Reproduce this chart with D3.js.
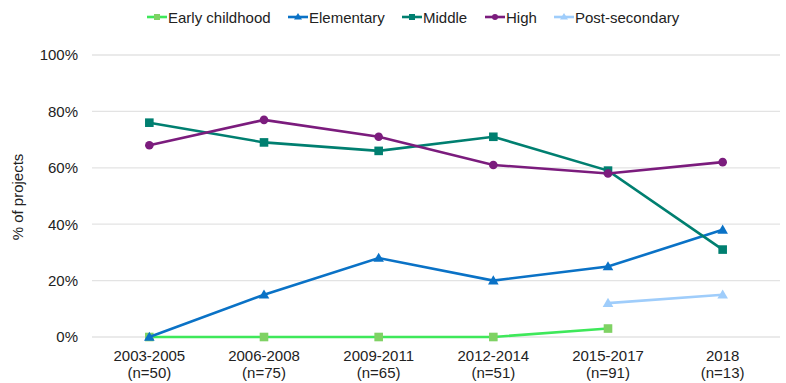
<!DOCTYPE html>
<html><head><meta charset="utf-8">
<script src="https://cdn.jsdelivr.net/npm/d3@7"></script>
<style>body{margin:0;background:#fff}svg{display:block;font-family:"Liberation Sans",Arial,sans-serif}</style>
</head><body><svg id="c" width="786" height="383"></svg>
<script>
const categories = ["2003-2005","2006-2008","2009-2011","2012-2014","2015-2017","2018"];
const sampleSizes = ["(n=50)","(n=75)","(n=65)","(n=51)","(n=91)","(n=13)"];
const earlyChildhood = [0,0,0,0,3,null];
const elementary = [0,15,28,20,25,38];
const middle = [76,69,66,71,59,31];
const high = [68,77,71,61,58,62];
const postSecondary = [null,null,null,null,12,15];
const yTicks = [0,20,40,60,80,100];

const series = [
  {name:"Early childhood", values:earlyChildhood, color:"#3ee85a", marker:"#7fd264", shape:"square"},
  {name:"Elementary", values:elementary, color:"#0a72c6", marker:"#0a72c6", shape:"triangle"},
  {name:"Middle", values:middle, color:"#007f70", marker:"#007f70", shape:"square"},
  {name:"High", values:high, color:"#7b1c7d", marker:"#7b1c7d", shape:"circle"},
  {name:"Post-secondary", values:postSecondary, color:"#9fcdfb", marker:"#9fcdfb", shape:"triangle"}
];
const drawOrder = [0,4,1,2,3];
const FS = 15;

const svg = d3.select("#c");
const x = d3.scaleBand().domain(categories).range([92,780]);
const y = d3.scaleLinear().domain([0,100]).range([337,55]);

// gridlines
svg.append("g").selectAll("line").data(yTicks).join("line")
  .attr("x1",92).attr("x2",780)
  .attr("y1",d=>y(d)).attr("y2",d=>y(d))
  .attr("stroke","#e3e3e3").attr("stroke-width",1.3);

// y axis labels
const yAxis = d3.axisLeft(y).tickValues(yTicks).tickFormat(d=>d+"%").tickSize(0).tickPadding(0);
const ya = svg.append("g").attr("transform","translate(78,0)").call(yAxis);
ya.select(".domain").remove();
ya.selectAll("text").attr("font-size",FS).attr("fill","#222").attr("font-family","Liberation Sans, Arial, sans-serif");

// x axis labels
const xAxis = d3.axisBottom(x).tickSize(0).tickFormat("");
const xa = svg.append("g").attr("transform","translate(0,337)").call(xAxis);
xa.select(".domain").remove();
xa.selectAll(".tick").each(function(d,i){
  const t = d3.select(this).append("text").attr("fill","#222").attr("font-size",FS)
    .attr("text-anchor","middle").attr("font-family","Liberation Sans, Arial, sans-serif");
  t.append("tspan").attr("x",0).attr("y",24).text(d);
  t.append("tspan").attr("x",0).attr("y",41).text(sampleSizes[i]);
});

// y title
svg.append("text").attr("transform","translate(23,197) rotate(-90)")
  .attr("text-anchor","middle").attr("font-size",FS).attr("fill","#222").text("% of projects");

const cx = c => x(c)+x.bandwidth()/2;
function drawMarker(g, shape, px, py, color, s){
  if(shape==="square"){
    g.append("rect").attr("x",px-s).attr("y",py-s).attr("width",2*s).attr("height",2*s).attr("fill",color);
  } else if(shape==="circle"){
    g.append("circle").attr("cx",px).attr("cy",py).attr("r",s).attr("fill",color);
  } else {
    g.append("path").attr("d",`M${px},${py-s-1}L${px+s+1},${py+s-0.5}L${px-s-1},${py+s-0.5}Z`).attr("fill",color);
  }
}

const line = d3.line().defined(d=>d.v!=null).x(d=>cx(d.c)).y(d=>y(d.v));
drawOrder.forEach(k=>{
  const s = series[k];
  const pts = categories.map((c,i)=>({c, v:s.values[i]}));
  const g = svg.append("g");
  g.append("path").attr("d",line(pts)).attr("fill","none").attr("stroke",s.color).attr("stroke-width",2.6);
  pts.filter(d=>d.v!=null).forEach(d=>drawMarker(g,s.shape,cx(d.c),y(d.v),s.marker,4.3));
});

// legend
const legendX = [147,288,402,485,554];
series.forEach((s,i)=>{
  const g = svg.append("g").attr("transform",`translate(${legendX[i]},17)`);
  g.append("line").attr("x1",0).attr("x2",20).attr("stroke",s.color).attr("stroke-width",2.6);
  drawMarker(g,s.shape,10,0,s.marker,3);
  g.append("text").attr("x",21).attr("y",5.5).attr("font-size",FS).attr("fill","#222").text(s.name);
});
</script></body></html>
